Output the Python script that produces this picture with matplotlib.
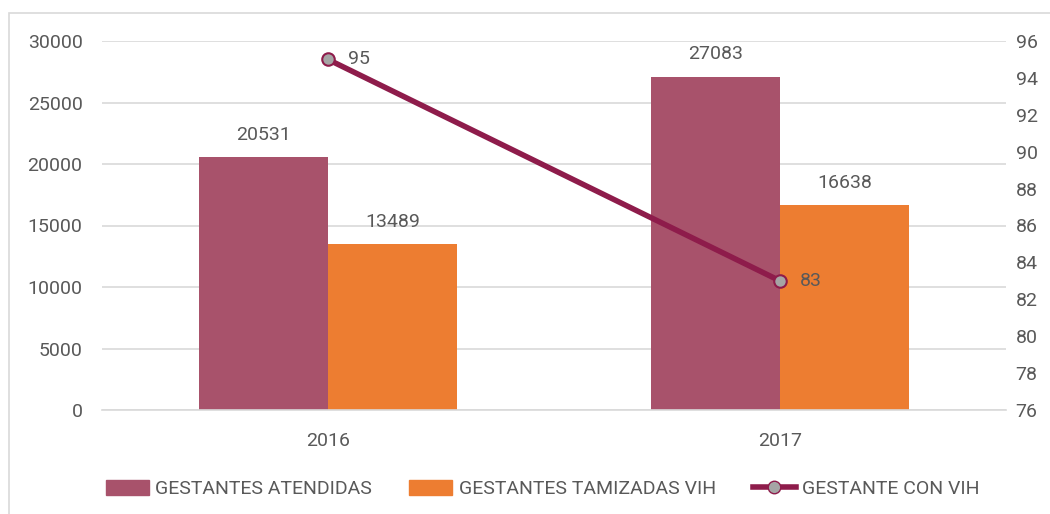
import matplotlib
matplotlib.use("Agg")
import matplotlib.pyplot as plt
from matplotlib.patches import Rectangle
from matplotlib.lines import Line2D
import numpy as np

categories = ["2016", "2017"]
atendidas = [20531, 27083]
tamizadas = [13489, 16638]
con_vih = [95, 83]

left_ticks = [0, 5000, 10000, 15000, 20000, 25000, 30000]
right_ticks = [76, 78, 80, 82, 84, 86, 88, 90, 92, 94, 96]

c_aten = "#A8526B"
c_tam = "#ED7D31"
c_line = "#8E1C4B"
c_text = "#595959"
c_grid = "#D9D9D9"

plt.rcParams['font.family'] = ['Roboto', 'DejaVu Sans']
FS = 14

W, H = 1050, 514
fig = plt.figure(figsize=(W / 100, H / 100), dpi=100)

# outer border
fig.patches.append(Rectangle((9 / W, -0.1), 1.2, 1 - 13 / H + 0.1, transform=fig.transFigure,
                             fill=False, edgecolor="#D9D9D9", linewidth=1.2))

ax = fig.add_axes([102 / W, 1 - 410 / H, (1006 - 102) / W, (410 - 41) / H])
x = np.arange(len(categories))
bw = 0.285
ax.bar(x - bw / 2, atendidas, bw, color=c_aten, zorder=2)
ax.bar(x + bw / 2, tamizadas, bw, color=c_tam, zorder=2)
for xi, v in zip(x, atendidas):
    ax.text(xi - bw / 2, v + 1100, str(v), ha="center", va="bottom", fontsize=FS, color=c_text)
for xi, v in zip(x, tamizadas):
    ax.text(xi + bw / 2, v + 1100, str(v), ha="center", va="bottom", fontsize=FS, color=c_text)

ax.set_xlim(-0.5, 1.5)
ax.set_ylim(0, 30000)
ax.set_yticks(left_ticks)
ax.set_yticklabels([str(t) for t in left_ticks])
ax.set_xticks(x)
ax.set_xticklabels(categories)
ax.yaxis.grid(True, color=c_grid, linewidth=1.2, zorder=0)
ax.set_axisbelow(True)
for s in ["top", "right", "left"]:
    ax.spines[s].set_visible(False)
ax.spines["bottom"].set_color(c_grid)
ax.spines["bottom"].set_linewidth(1.2)
ax.tick_params(axis="both", length=0, labelsize=FS, colors=c_text)
ax.tick_params(axis="y", pad=14)
ax.tick_params(axis="x", pad=16)

ax2 = ax.twinx()
ax2.set_ylim(76, 96)
ax2.set_yticks(right_ticks)
ax2.set_yticklabels([str(t) for t in right_ticks])
for s in ax2.spines.values():
    s.set_visible(False)
ax2.tick_params(axis="y", length=0, labelsize=FS, colors=c_text, pad=7)
ax2.plot(x, con_vih, color=c_line, linewidth=4, marker="o", markersize=9,
         markerfacecolor="#A5A5A5", markeredgecolor=c_line, markeredgewidth=1.5, zorder=5)
for xi, v in zip(x, con_vih):
    ax2.text(xi + 0.045, v, str(v), ha="left", va="center", fontsize=FS, color=c_text)

handles = [Rectangle((0, 0), 1, 1, color=c_aten),
           Rectangle((0, 0), 1, 1, color=c_tam),
           Line2D([0], [0], color=c_line, linewidth=4, marker="o", markersize=9,
                  markerfacecolor="#A5A5A5", markeredgecolor=c_line)]
labels = ["GESTANTES ATENDIDAS", "GESTANTES TAMIZADAS VIH", "GESTANTE CON VIH"]
leg = fig.legend(handles, labels, loc="center", bbox_to_anchor=(0.517, 1 - 489 / H), ncol=3,
                 frameon=False, fontsize=FS, handlelength=2.2, handleheight=0.8,
                 columnspacing=1.9, handletextpad=0.35)
for t in leg.get_texts():
    t.set_color(c_text)

fig.savefig("out.png", dpi=100)
